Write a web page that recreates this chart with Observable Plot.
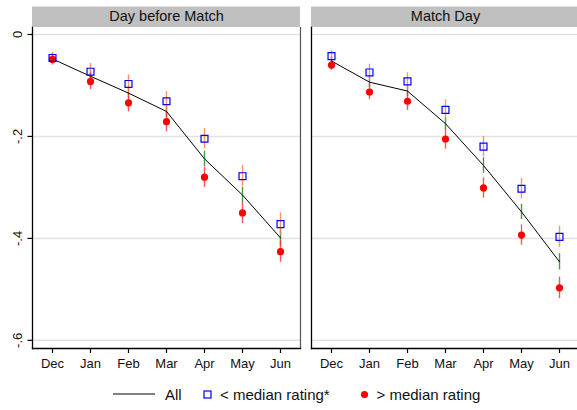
<!DOCTYPE html>
<html>
<head>
<meta charset="utf-8">
<script src="https://cdn.jsdelivr.net/npm/d3@7"></script>
<script src="https://cdn.jsdelivr.net/npm/@observablehq/plot@0.6"></script>
<style>
  html, body { margin: 0; padding: 0; background: #fff; overflow: hidden; }
  body { width: 577px; height: 410px; position: relative; font-family: "Liberation Sans", Arial, Helvetica, sans-serif; }
  #chart { position: absolute; left: 0; top: 0; }
  #chart svg { max-width: none !important; }
  #legend { position: absolute; left: 0; top: 378px; width: 577px; height: 32px; font-size: 15px; color: #111; }
  #legend .item { position: absolute; top: 0; height: 32px; display: flex; align-items: center; }
</style>
</head>
<body>
<div id="chart"></div>
<div id="legend"></div>
<script>
// ---- data ----
const panels = ["Day before Match", "Match Day"];
const months = ["Dec", "Jan", "Feb", "Mar", "Apr", "May", "Jun"];

// "All" (black line)
const allDayBefore = [-0.048, -0.082, -0.115, -0.151, -0.244, -0.315, -0.399];
const allMatchDay  = [-0.052, -0.0935, -0.111, -0.175, -0.257, -0.348, -0.446];
// "< median rating*" (blue hollow squares)
const lowDayBefore = [-0.046, -0.073, -0.097, -0.131, -0.2045, -0.278, -0.372];
const lowMatchDay  = [-0.0425, -0.0745, -0.092, -0.148, -0.220, -0.3026, -0.397];
// "> median rating" (red dots)
const highDayBefore = [-0.049, -0.092, -0.134, -0.171, -0.280, -0.350, -0.426];
const highMatchDay  = [-0.060, -0.113, -0.131, -0.205, -0.301, -0.3935, -0.497];

// confidence-interval half widths
const allCiDayBefore  = [0.008, 0.010, 0.011, 0.012, 0.015, 0.015, 0.016];
const allCiMatchDay   = [0.008, 0.010, 0.011, 0.012, 0.015, 0.015, 0.016];
const lowCiDayBefore  = [0.011, 0.016, 0.018, 0.019, 0.020, 0.021, 0.022];
const lowCiMatchDay   = [0.011, 0.016, 0.017, 0.020, 0.020, 0.020, 0.021];
const highCiDayBefore = [0.011, 0.016, 0.018, 0.020, 0.020, 0.021, 0.021];
const highCiMatchDay  = [0.010, 0.015, 0.018, 0.020, 0.020, 0.020, 0.021];

const yTicks = [0, -0.2, -0.4, -0.6];
const yTickLabels = ["0", "-.2", "-.4", "-.6"];

const legendLabels = ["All", "< median rating*", "> median rating"];

// ---- build tables ----
function rows(panel, vals, ci) {
  return months.map((m, i) => ({panel, month: m, value: vals[i], lo: vals[i] - ci[i], hi: vals[i] + ci[i]}));
}
const allRows  = [...rows(panels[0], allDayBefore, allCiDayBefore), ...rows(panels[1], allMatchDay, allCiMatchDay)];
const lowRows  = [...rows(panels[0], lowDayBefore, lowCiDayBefore), ...rows(panels[1], lowMatchDay, lowCiMatchDay)];
const highRows = [...rows(panels[0], highDayBefore, highCiDayBefore), ...rows(panels[1], highMatchDay, highCiMatchDay)];
const headers = panels.map(p => ({panel: p}));

const fontFamily = '"Liberation Sans", Arial, Helvetica, sans-serif';

const chart = Plot.plot({
  width: 580,
  height: 378,
  marginLeft: 31,
  marginRight: 0.3,
  marginTop: 27,
  marginBottom: 30,
  style: {fontFamily, fontSize: "13px", color: "#111", background: "white", overflow: "visible", maxWidth: "none"},
  fx: {domain: panels, paddingInner: 0.0383, paddingOuter: 0, axis: null, label: null},
  x: {domain: months, type: "point", padding: 0.5, label: null},
  y: {domain: [-0.616, 0.0137], label: null},
  marks: [
    // panel headers
    Plot.rect(headers, {fx: "panel", fill: "#c0c0c0", insetTop: -20.5, insetBottom: 321}),
    Plot.text(headers, {fx: "panel", text: "panel", frameAnchor: "top", dy: -11.5, lineAnchor: "middle", fontSize: 14.5, fill: "#111"}),
    // gridlines
    Plot.ruleY(yTicks, {stroke: "#e2e2e2", strokeWidth: 1.5}),
    // axes lines / borders
    Plot.frame({anchor: "right", stroke: "#555", strokeWidth: 1.2}),
    Plot.frame({anchor: "left", stroke: "#000", strokeWidth: 1.3}),
    Plot.frame({anchor: "bottom", stroke: "#000", strokeWidth: 1.3}),
    Plot.axisY(yTicks, {
      anchor: "left", tickSize: 4.5, tickPadding: 6, tickRotate: -90,
      textAnchor: "middle", lineAnchor: "bottom",
      tickFormat: d => yTickLabels[yTicks.indexOf(d)], fontSize: 13, stroke: "#000", strokeWidth: 1.2, label: null
    }),
    Plot.axisX({anchor: "bottom", tickSize: 5, tickPadding: 5, fontSize: 13, stroke: "#000", strokeWidth: 1.2, label: null}),
    // CIs
    Plot.ruleX(allRows,  {fx: "panel", x: "month", y1: "lo", y2: "hi", stroke: "#3a8a3a", strokeWidth: 1.4, strokeOpacity: 0.9}),
    Plot.ruleX(lowRows,  {fx: "panel", x: "month", y1: "lo", y2: "hi", stroke: "#f5844f", strokeWidth: 1.4, strokeOpacity: 0.85}),
    Plot.ruleX(highRows, {fx: "panel", x: "month", y1: "lo", y2: "hi", stroke: "#ff2a2a", strokeWidth: 1.4, strokeOpacity: 0.8}),
    // All line
    Plot.line(allRows, {fx: "panel", x: "month", y: "value", stroke: "#000", strokeWidth: 1}),
    // markers
    Plot.dot(highRows, {fx: "panel", x: "month", y: "value", r: 3.6, fill: "#ff0000", stroke: "none"}),
    Plot.dot(lowRows,  {fx: "panel", x: "month", y: "value", symbol: "square", r: 3.9, fill: "none", stroke: "#0000ff", strokeWidth: 1.2})
  ]
});
document.getElementById("chart").appendChild(chart);

// ---- legend ----
const legend = document.getElementById("legend");
const items = [
  {x: 113, html: '<svg width="42" height="10"><line x1="0" x2="42" y1="5" y2="5" stroke="#000" stroke-width="1.2"/></svg>', labelX: 165, label: legendLabels[0]},
  {x: 203, html: '<svg width="9" height="9"><rect x="1" y="1" width="7" height="7" fill="none" stroke="#0000ff" stroke-width="1.2"/></svg>', labelX: 220, label: legendLabels[1]},
  {x: 360, html: '<svg width="9" height="9"><circle cx="4.5" cy="4.5" r="3.6" fill="#ff0000"/></svg>', labelX: 376.5, label: legendLabels[2]}
];
for (const it of items) {
  const sw = document.createElement("div");
  sw.className = "item";
  sw.style.left = it.x + "px";
  sw.innerHTML = it.html;
  legend.appendChild(sw);
  const lb = document.createElement("div");
  lb.className = "item";
  lb.style.left = it.labelX + "px";
  lb.textContent = it.label;
  legend.appendChild(lb);
}
</script>
</body>
</html>
